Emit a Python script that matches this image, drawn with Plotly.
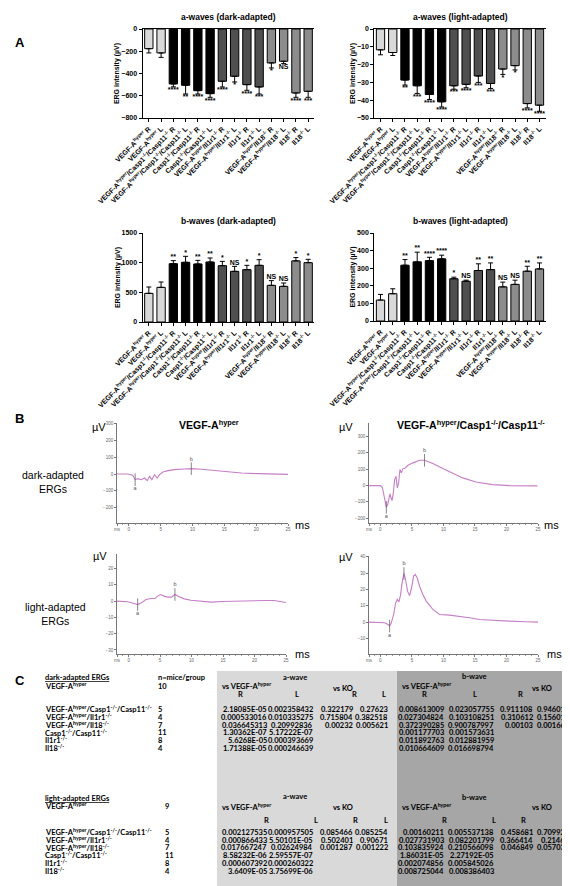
import plotly.graph_objects as go

W, H = 570, 886


def fx(p):
    return p / W


def fy(p):
    return 1 - p / H


# ---------------------------------------------------------------- data (A)
categories = [
    "VEGF-A<sup>hyper</sup> R", "VEGF-A<sup>hyper</sup> L",
    "VEGF-A<sup>hyper</sup>/Casp1<sup>-/-</sup>/Casp11<sup>-/-</sup> R",
    "VEGF-A<sup>hyper</sup>/Casp1<sup>-/-</sup>/Casp11<sup>-/-</sup> L",
    "Casp1<sup>-/-</sup>/Casp11<sup>-/-</sup> R", "Casp1<sup>-/-</sup>/Casp11<sup>-/-</sup> L",
    "VEGF-A<sup>hyper</sup>/Il1r1<sup>-/-</sup> R", "VEGF-A<sup>hyper</sup>/Il1r1<sup>-/-</sup> L",
    "Il1r1<sup>-/-</sup> R", "Il1r1<sup>-/-</sup> L",
    "VEGF-A<sup>hyper</sup>/Il18<sup>-/-</sup> R", "VEGF-A<sup>hyper</sup>/Il18<sup>-/-</sup> L",
    "Il18<sup>-/-</sup> R", "Il18<sup>-/-</sup> L",
]
groups = [0, 0, 1, 1, 1, 1, 2, 2, 2, 2, 3, 3, 3, 3]

a_dark_mean = [-177, -215, -494, -506, -554, -581, -470, -425, -500, -521, -305, -290, -575, -560]
a_dark_err = [38, 40, 26, 78, 30, 33, 51, 51, 51, 63, 45, 21, 39, 54]
a_dark_sig = ["", "", "****", "**", "****", "****", "****", "*", "****", "***", "*", "NS", "****", "***"]

a_light_mean = [-11.7, -13.2, -28.7, -31.9, -36.8, -40.9, -31.9, -31.1, -26.4, -30.6, -22.5, -20.6, -41.9, -42.8]
a_light_err = [2.8, 1.7, 2.8, 4.3, 2.8, 2.9, 1.9, 1.9, 3.6, 2.8, 3.0, 2.4, 2.4, 3.4]
a_light_sig = ["", "", "**", "***", "****", "****", "***", "****", "***", "***", "*", "*", "****", "****"]

b_dark_mean = [483, 584, 983, 1006, 978, 1011, 949, 854, 882, 955, 618, 601, 1030, 1000]
b_dark_err = [107, 90, 51, 101, 61, 68, 73, 84, 73, 95, 79, 56, 56, 56]
b_dark_sig = ["", "", "**", "*", "**", "**", "*", "NS", "*", "*", "NS", "NS", "*", "*"]

b_light_mean = [119, 155, 317, 336, 343, 353, 240, 226, 287, 292, 194, 208, 283, 296]
b_light_err = [32, 28, 32, 55, 19, 21, 9, 6, 38, 38, 27, 24, 28, 34]
b_light_sig = ["", "", "**", "**", "****", "****", "*", "NS", "**", "**", "NS", "NS", "**", "**"]

# ---------------------------------------------------------------- data (B)
erg_dark_vegf_t = [-1.84, -0.16, 0.63, 1.0, 1.42, 1.94, 2.47, 2.89, 3.26, 3.62, 4.04, 4.46, 4.83,
                   5.35, 6.14, 7.19, 8.77, 9.82, 11.4, 13.5, 15.6, 17.7, 20.3, 22.9, 25.0]
erg_dark_vegf_v = [0, 0, -8, -34, -28, -34, -24, -40, -14, -34, -4, -24, -4,
                   12, 20, 26, 30, 32, 28, 20, 12, 6, 2, -2, -2]

erg_dark_casp_t = [-1.79, 0.0, 0.32, 0.53, 0.79, 0.95, 1.16, 1.37, 1.53, 1.69, 1.85, 2.06, 2.27,
                   2.48, 2.69, 2.90, 3.11, 3.32, 3.59, 3.95, 4.38, 5.17, 6.22, 7.01, 8.33, 9.91,
                   11.49, 13.07, 15.17, 17.80, 20.44, 24.91]
erg_dark_casp_v = [0, 0, -10, -45, -106, -133, -116, -75, -51, -75, -92, -45, 37,
                   57, -14, 16, 98, 78, 104, 108, 124, 139, 155, 155, 135, 104,
                   73, 47, 22, 6, 0, -2]

erg_light_vegf_t = [-1.85, -1.22, -0.16, 0.9, 1.43, 1.96, 2.75, 3.55, 4.18, 4.6, 5.03, 5.66, 6.19,
                    6.83, 7.35, 8.04, 8.84, 9.9, 11.5, 13.1, 14.7, 16.2, 17.8, 19.2, 20.5, 21.8,
                    23.1, 24.2, 25.0]
erg_light_vegf_v = [0, 0, -0.4, -1.4, -2.1, -1.2, 1.0, 1.6, 1.6, 3.1, 4.1, 3.1, 2.5,
                    2.5, 4.1, 2.7, 1.4, 0.6, 0, -0.6, -0.2, 0, -0.2, 0, 0.6, 0.4,
                    0.4, -0.4, -0.8]

erg_light_casp_t = [-1.79, 0.0, 0.68, 1.21, 1.47, 1.74, 2.11, 2.42, 2.69, 2.95, 3.21, 3.48, 3.74,
                    4.00, 4.32, 4.63, 4.95, 5.27, 5.53, 5.85, 6.22, 6.74, 7.27, 8.32, 9.38, 10.96,
                    12.54, 14.12, 15.7, 17.8, 20.44, 23.07, 25.18]
erg_light_casp_v = [0, 0, -0.4, -1.4, -2.4, -0.4, 4.7, 11.8, 13.9, 12.4, 16.9, 25.1, 29.8,
                    26.1, 18.8, 16.3, 21.0, 28.2, 29.2, 27.1, 22.0, 16.9, 12.9, 7.8, 4.7, 4.3,
                    3.7, 2.7, 1.6, 1.0, 0.6, 0.2, 0]

mark_labels = ["a", "b"]
erg_dark_vegf_marks_t = [1.0, 9.82]
erg_dark_vegf_marks_v = [-34, 32]
erg_dark_casp_marks_t = [0.95, 7.0]
erg_dark_casp_marks_v = [-133, 155]
erg_light_vegf_marks_t = [1.43, 7.35]
erg_light_vegf_marks_v = [-2.1, 4.1]
erg_light_casp_marks_t = [1.47, 3.74]
erg_light_casp_marks_v = [-2.4, 29.8]

erg_x_tickvals = [0, 5, 10, 15, 20, 25]
erg_dark_y_ticks = [-200, -100, 0, 100, 200, 300]
erg_light_y_ticks = [-30, -20, -10, 0, 10, 20, 30, 40]

# ---------------------------------------------------------------- data (C)
genotypes = [
    "VEGF-A<sup>hyper</sup>/Casp1<sup>-/-</sup>/Casp11<sup>-/-</sup>",
    "VEGF-A<sup>hyper</sup>/Il1r1<sup>-/-</sup>",
    "VEGF-A<sup>hyper</sup>/Il18<sup>-/-</sup>",
    "Casp1<sup>-/-</sup>/Casp11<sup>-/-</sup>",
    "Il1r1<sup>-/-</sup>",
    "Il18<sup>-/-</sup>",
]
reference_genotype = "VEGF-A<sup>hyper</sup>"
dark_n_ref = "10"
dark_n = ["5", "4", "7", "11", "8", "4"]
light_n_ref = "9"
light_n = ["5", "4", "7", "11", "8", "4"]

dark_a_vegf_R = ["2.18085E-05", "0.000533016", "0.036645313", "1.30362E-07", "5.6268E-05", "1.71388E-05"]
dark_a_vegf_L = ["0.002358432", "0.010335275", "0.20992836", "5.17222E-07", "0.000393669", "0.000246639"]
dark_a_ko_R = ["0.322179", "0.715804", "0.00232"]
dark_a_ko_L = ["0.27623", "0.382518", "0.005621"]
dark_b_vegf_R = ["0.008613009", "0.027304824", "0.372390285", "0.001177703", "0.011892763", "0.010664609"]
dark_b_vegf_L = ["0.023057755", "0.103108251", "0.900787997", "0.001573631", "0.012881959", "0.016698794"]
dark_b_ko_R = ["0.911108", "0.310612", "0.00103"]
dark_b_ko_L = ["0.946012", "0.156011", "0.001669"]

light_a_vegf_R = ["0.002127535", "0.000866433", "0.017667247", "8.58232E-06", "0.000607392", "3.6409E-05"]
light_a_vegf_L = ["0.000957505", "5.50101E-05", "0.02624984", "2.59557E-07", "0.000260322", "3.75699E-06"]
light_a_ko_R = ["0.085466", "0.502401", "0.001287"]
light_a_ko_L = ["0.085254", "0.90671", "0.001222"]
light_b_vegf_R = ["0.00160211", "0.027731903", "0.103835924", "1.86031E-05", "0.002074856", "0.008725044"]
light_b_vegf_L = ["0.005537138", "0.082201799", "0.210566098", "2.27192E-05", "0.005845026", "0.008386403"]
light_b_ko_R = ["0.458681", "0.366414", "0.046849"]
light_b_ko_L = ["0.709925", "0.21461", "0.057033"]

# ---------------------------------------------------------------- styling
FONT = "Liberation Sans"
TFONT = "Lato"
group_colors = ["#d9d9d9", "#000000", "#4f4f4f", "#8c8c8c"]
trace_color = "#c77dc7"

fig = go.Figure()
layout = dict(
    width=W, height=H, margin=dict(l=0, r=0, t=0, b=0), autosize=False,
    paper_bgcolor="white", plot_bgcolor="rgba(0,0,0,0)", showlegend=False,
    template="none", font=dict(family=FONT, color="black"),
)
annotations = []
shapes = []


def ann(text, x, y, size, xanchor="center", yanchor="middle", bold=False, family=FONT, color="black", textangle=0):
    annotations.append(dict(
        text=text, x=fx(x), y=fy(y), xref="paper", yref="paper", showarrow=False,
        xanchor=xanchor, yanchor=yanchor, textangle=textangle,
        font=dict(size=size, family=family, color=color, weight="bold" if bold else "normal"),
    ))


# ---------------------------------------------------------------- bar charts
bar_specs = [
    (1, a_dark_mean, a_dark_err, a_dark_sig, True, (134.7, 306.3), (21, 110), [-800, 0], 200, "a-waves (dark-adapted)"),
    (2, a_light_mean, a_light_err, a_light_sig, True, (366.4, 537.6), (21, 110), [-50, 0], 10, "a-waves (light-adapted)"),
    (3, b_dark_mean, b_dark_err, b_dark_sig, False, (134.7, 306.3), (225, 314), [0, 1500], 500, "b-waves (dark-adapted)"),
    (4, b_light_mean, b_light_err, b_light_sig, False, (366.4, 537.6), (225, 313), [0, 500], 100, "b-waves (light-adapted)"),
]

for idx, mean, err, sig, neg, xp, yp, rng, dt, title in bar_specs:
    xa = "x" if idx == 1 else f"x{idx}"
    ya = "y" if idx == 1 else f"y{idx}"
    zeros = [0] * len(mean)
    fig.add_trace(go.Bar(
        x=categories, y=mean, xaxis=xa, yaxis=ya, width=0.68,
        marker=dict(color=[group_colors[g] for g in groups], line=dict(color="black", width=1)),
        error_y=dict(type="data", symmetric=False,
                     array=zeros if neg else err, arrayminus=err if neg else zeros,
                     color="black", thickness=1, width=2.5),
    ))
    keep = [i for i, s in enumerate(sig) if s]
    ends = [mean[i] - err[i] if neg else mean[i] + err[i] for i in keep]
    fig.add_trace(go.Scatter(
        x=[categories[i] for i in keep], y=ends, xaxis=xa, yaxis=ya, mode="text",
        text=[sig[i] for i in keep],
        textposition="bottom center" if neg else "top center",
        textfont=dict(size=7, family=FONT, color="black", weight="bold"),
        cliponaxis=False,
    ))
    layout["xaxis" if idx == 1 else f"xaxis{idx}"] = dict(
        domain=[fx(xp[0]), fx(xp[1])], anchor=ya, type="category", range=[-0.5, 13.5],
        showline=True, linecolor="black", linewidth=1.4, mirror=neg,
        ticks="outside", ticklen=3, tickwidth=1, tickcolor="black", tickangle=-45,
        tickfont=dict(size=7, family=FONT, weight="bold"), showgrid=False, zeroline=False,
        automargin=False,
    )
    layout["yaxis" if idx == 1 else f"yaxis{idx}"] = dict(
        domain=[fy(yp[1]), fy(yp[0])], anchor=xa, range=rng, dtick=dt,
        showline=True, linecolor="black", linewidth=1.4,
        ticks="outside", ticklen=3, tickwidth=1, tickcolor="black",
        tickfont=dict(size=7, family=FONT, weight="bold"), showgrid=False, zeroline=False,
        title=dict(text="ERG intensity (µV)", font=dict(size=7, family=FONT, weight="bold"), standoff=0),
        automargin=False,
    )
    ann(title, (xp[0] + xp[1]) / 2, yp[0] - 12, 8.5, bold=True)

ann("A", 5, 35, 13, xanchor="left", bold=True)

# ---------------------------------------------------------------- ERG traces
erg_specs = [
    (5, erg_dark_vegf_t, erg_dark_vegf_v, erg_dark_vegf_marks_t, erg_dark_vegf_marks_v,
     (109, 280), (415, 515), [-1.85, 25], [-293, 305], erg_dark_y_ticks),
    (6, erg_dark_casp_t, erg_dark_casp_v, erg_dark_casp_marks_t, erg_dark_casp_marks_v,
     (361, 530), (415, 515), [-1.8, 25], [-229, 383], erg_dark_y_ticks),
    (7, erg_light_vegf_t, erg_light_vegf_v, erg_light_vegf_marks_t, erg_light_vegf_marks_v,
     (109, 278), (546, 646), [-1.85, 25], [-32.5, 29], erg_light_y_ticks),
    (8, erg_light_casp_t, erg_light_casp_v, erg_light_casp_marks_t, erg_light_casp_marks_v,
     (361, 530), (548, 646), [-1.8, 25], [-19.5, 40.5], erg_light_y_ticks),
]
for idx, t, v, mt, mv, xp, yp, xr, yr, yt in erg_specs:
    xa, ya = f"x{idx}", f"y{idx}"
    fig.add_trace(go.Scatter(x=t, y=v, xaxis=xa, yaxis=ya, mode="lines",
                             line=dict(color=trace_color, width=1.1)))
    fig.add_trace(go.Scatter(x=mt, y=mv, xaxis=xa, yaxis=ya, mode="markers+text",
                             marker=dict(symbol="line-ns", size=9, line=dict(color="#666", width=0.8)),
                             text=mark_labels, textposition=["bottom center", "top center"],
                             textfont=dict(size=5.5, color="#555"), cliponaxis=False))
    yt_in = [k for k in yt if yr[0] <= k <= yr[1]]
    layout[f"xaxis{idx}"] = dict(
        domain=[fx(xp[0]), fx(xp[1])], anchor=ya, range=xr,
        tickvals=[xr[0]] + erg_x_tickvals, ticktext=["ms"] + [str(k) for k in erg_x_tickvals],
        showline=True, linecolor="#777", linewidth=0.8,
        ticks="outside", ticklen=2, tickwidth=0.6, tickcolor="#777",
        minor=dict(tickmode="linear", tick0=0, dtick=1, ticks="outside", ticklen=1.2, tickcolor="#999"),
        tickfont=dict(size=4.5, color="#666"), showgrid=False, zeroline=False, automargin=False,
    )
    layout[f"yaxis{idx}"] = dict(
        domain=[fy(yp[1]), fy(yp[0])], anchor=xa, range=yr, tickvals=yt_in,
        showline=True, linecolor="#777", linewidth=0.8,
        ticks="outside", ticklen=2, tickwidth=0.6, tickcolor="#777",
        tickfont=dict(size=4.5, color="#666"), showgrid=False, zeroline=False, automargin=False,
    )

ann("B", 5, 410, 13, xanchor="left", bold=True)
ann("VEGF-A<sup>hyper</sup>", 201, 416, 10.5, bold=True)
ann("VEGF-A<sup>hyper</sup>/Casp1<sup>-/-</sup>/Casp11<sup>-/-</sup>", 463, 416, 10.5, bold=True)
for (x, y) in [(91, 419), (338, 419), (92, 548), (338, 549)]:
    ann("µV", x, y, 11)
for (x, y) in [(294, 517), (543, 517), (294, 646), (546, 646)]:
    ann("ms", x, y, 11)
ann("dark-adapted<br>ERGs", 12, 474, 10.5, xanchor="left")
ann("light-adapted<br>ERGs", 15, 606, 10.5, xanchor="left")

# ---------------------------------------------------------------- table (C)
shapes.append(dict(type="rect", xref="paper", yref="paper", x0=fx(209), x1=fx(389), y0=fy(884), y1=fy(663),
                   fillcolor="#d9d9d9", line=dict(width=0), layer="below"))
shapes.append(dict(type="rect", xref="paper", yref="paper", x0=fx(389), x1=fx(566), y0=fy(884), y1=fy(663),
                   fillcolor="#a6a6a6", line=dict(width=0), layer="below"))

ann("C", 5, 672, 13, xanchor="left", bold=True)

col_right = [261, 307, 347, 382, 438, 488, 527, 563]
TS = 7.5


def tann(text, x, y, xanchor="left"):
    ann(text, x, y, TS, xanchor=xanchor, bold=True, family=TFONT)


def table_block(title, y0, ref_n, n_list, n_x, cols, rl_y, rl_x, rows_y, hdr):
    tann(f"<u>{title}</u>", 35, y0)
    tann(reference_genotype, 35, hdr["ref_y"])
    tann(ref_n, n_x, hdr["ref_y"])
    tann("a-wave", 287, hdr["a_y"], "center")
    tann("b-wave", 466, hdr["b_y"], "center")
    tann("vs VEGF-A<sup>hyper</sup>", 212, hdr["vs_y"])
    tann("vs KO", 323, hdr["ko_y"])
    tann("vs VEGF-A<sup>hyper</sup>", 392, hdr["vs_y"])
    tann("vs KO", 522, hdr["ko_y"])
    for k, x in enumerate(rl_x):
        tann("R" if k % 2 == 0 else "L", x, rl_y, "center")
    for r, g in enumerate(genotypes):
        tann(g, 35, rows_y[r])
        tann(n_list[r], n_x, rows_y[r])
    for c, values in enumerate(cols):
        for r, val in enumerate(values):
            tann(val, col_right[c], rows_y[r], "right")


tann("n=mice/group", 148, 669)
table_block("dark-adapted ERGs", 669, dark_n_ref, dark_n, 148,
            [dark_a_vegf_R, dark_a_vegf_L, dark_a_ko_R, dark_a_ko_L,
             dark_b_vegf_R, dark_b_vegf_L, dark_b_ko_R, dark_b_ko_L],
            686, [232, 289, 346, 376, 416, 467, 512, 562],
            [701, 709, 717, 724.5, 732, 740],
            dict(ref_y=678, a_y=669, b_y=668, vs_y=678, ko_y=680))
table_block("light-adapted ERGs", 790, light_n_ref, light_n, 155,
            [light_a_vegf_R, light_a_vegf_L, light_a_ko_R, light_a_ko_L,
             light_b_vegf_R, light_b_vegf_L, light_b_ko_R, light_b_ko_L],
            812, [258, 308, 347, 378, 436, 486, 515, 561],
            [824, 832, 839.5, 847, 855, 863],
            dict(ref_y=798, a_y=788, b_y=789, vs_y=799, ko_y=799))

layout["annotations"] = annotations
layout["shapes"] = shapes
fig.update_layout(**layout)
fig.write_html("out.html")
